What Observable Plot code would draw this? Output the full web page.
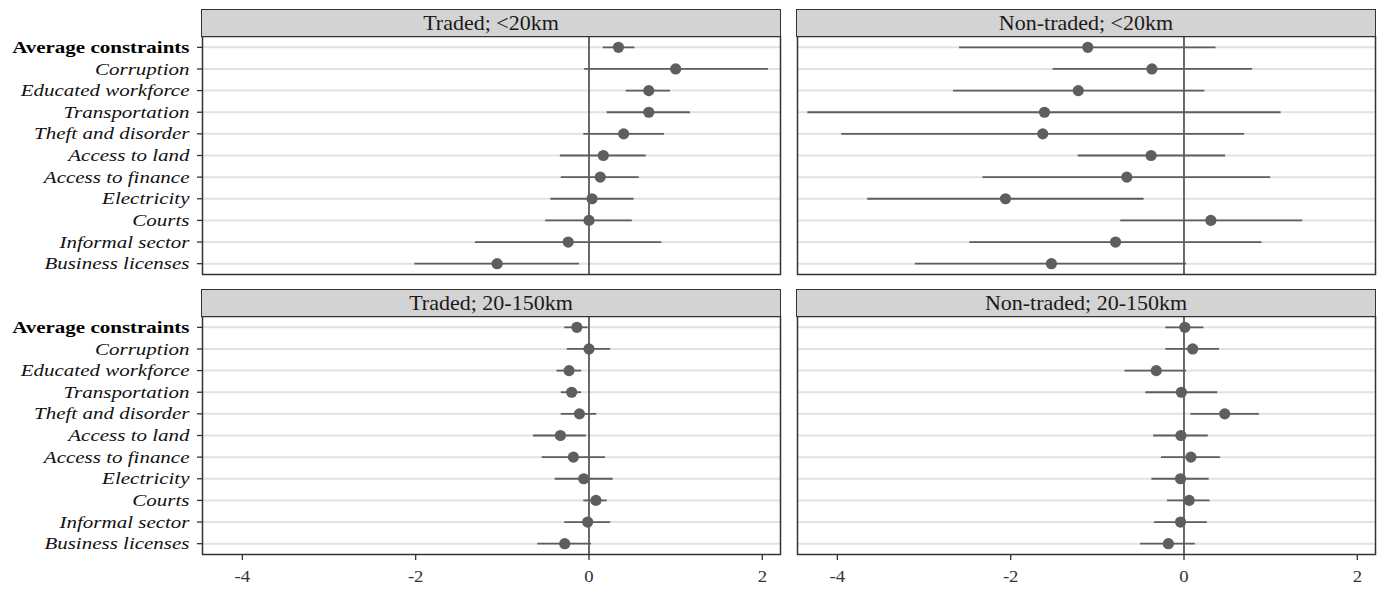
<!DOCTYPE html>
<html><head><meta charset="utf-8">
<script src="https://cdn.jsdelivr.net/npm/d3@7"></script>
<script src="https://cdn.jsdelivr.net/npm/@observablehq/plot@0.6"></script>
<style>
body{margin:0;background:#fff;}
#chart{position:relative;width:1380px;height:589px;background:#fff;font-family:"Liberation Serif","Times New Roman",serif;overflow:hidden;}
.strip{position:absolute;box-sizing:border-box;background:#d3d3d3;border:1.5px solid #333;text-align:center;font-size:22px;line-height:25px;color:#1a1a1a;white-space:nowrap;}
.panel{position:absolute;}
</style></head><body><div id="chart"></div>
<script>
// ---- data ----
const categories = ["Average constraints","Corruption","Educated workforce","Transportation","Theft and disorder","Access to land","Access to finance","Electricity","Courts","Informal sector","Business licenses"];
const panelTitles = ["Traded; <20km","Non-traded; <20km","Traded; 20-150km","Non-traded; 20-150km"];
const xTicks = [-4,-2,0,2];

const tradedNearEst = [0.34,1.00,0.69,0.69,0.40,0.165,0.13,0.035,0.00,-0.24,-1.06];
const tradedNearLo  = [0.165,-0.05,0.43,0.21,-0.06,-0.33,-0.32,-0.44,-0.50,-1.31,-2.01];
const tradedNearHi  = [0.53,2.07,0.94,1.17,0.87,0.66,0.58,0.52,0.50,0.84,-0.11];

const nonTradedNearEst = [-1.11,-0.37,-1.22,-1.61,-1.63,-0.38,-0.66,-2.06,0.31,-0.79,-1.53];
const nonTradedNearLo  = [-2.59,-1.51,-2.66,-4.34,-3.95,-1.22,-2.32,-3.65,-0.73,-2.47,-3.10];
const nonTradedNearHi  = [0.37,0.79,0.24,1.12,0.70,0.48,1.00,-0.46,1.37,0.90,0.03];

const tradedFarEst = [-0.14,0.00,-0.23,-0.20,-0.11,-0.33,-0.18,-0.06,0.08,-0.015,-0.28];
const tradedFarLo  = [-0.28,-0.25,-0.37,-0.32,-0.32,-0.64,-0.54,-0.39,-0.06,-0.28,-0.59];
const tradedFarHi  = [-0.01,0.25,-0.085,-0.085,0.09,-0.03,0.19,0.28,0.21,0.25,0.03];

const nonTradedFarEst = [0.01,0.10,-0.32,-0.03,0.47,-0.035,0.08,-0.04,0.06,-0.04,-0.18];
const nonTradedFarLo  = [-0.21,-0.21,-0.68,-0.44,0.08,-0.35,-0.26,-0.37,-0.19,-0.34,-0.50];
const nonTradedFarHi  = [0.23,0.41,0.03,0.39,0.87,0.28,0.42,0.29,0.30,0.27,0.13];

const seriesSets = [
  [tradedNearEst, tradedNearLo, tradedNearHi],
  [nonTradedNearEst, nonTradedNearLo, nonTradedNearHi],
  [tradedFarEst, tradedFarLo, tradedFarHi],
  [nonTradedFarEst, nonTradedFarLo, nonTradedFarHi]
];

// ---- layout ----
const chart = document.getElementById("chart");
const bodyW = 578, bodyH = 238;
const colX = [202, 797];        // panel body left edges
const rowY = [36, 316];         // panel body top edges
const stripH = 27;
const xDomain = [-4.46, 2.21];
const ink = "#5e5e5e";

function fmt(d){ return d < 0 ? "-" + Math.abs(d) : String(d); }

for (let i = 0; i < 4; i++) {
  const col = i % 2, row = Math.floor(i / 2);
  const [est, lo, hi] = seriesSets[i];
  const data = categories.map((c, k) => ({cat: c, est: est[k], lo: lo[k], hi: hi[k]}));

  const left = col === 0;
  const bottom = row === 1;
  const mL = left ? colX[0] : 3;
  const mR = 3, mT = 2, mB = bottom ? 35 : 2;
  const svgLeft = colX[col] - mL;
  const svgTop = rowY[row] - mT;

  const marks = [
    Plot.ruleY(categories, {y: d => d, stroke: "#e2e2e2", strokeWidth: 2}),
    Plot.ruleX([0], {stroke: "#444", strokeWidth: 1.6}),
    Plot.ruleY(data, {y: "cat", x1: "lo", x2: "hi", stroke: ink, strokeWidth: 1.8}),
    Plot.dot(data, {x: "est", y: "cat", r: 5.6, fill: ink, stroke: "none"}),
    Plot.frame({stroke: "#333", strokeWidth: 1.5})
  ];
  if (left) marks.push(Plot.axisY({label: null, tickSize: 5, tickPadding: 8, stroke: "#333", strokeWidth: 1.3, fill: "#111", fontSize: 17.5}));
  if (bottom) marks.push(Plot.axisX({label: null, ticks: xTicks, tickFormat: fmt, tickSize: 6, tickPadding: 9, stroke: "#333", strokeWidth: 1.3, fill: "#333", fontSize: 17}));

  const svg = Plot.plot({
    width: mL + bodyW + mR,
    height: mT + bodyH + mB,
    marginLeft: mL, marginRight: mR, marginTop: mT, marginBottom: mB,
    style: {fontFamily: '"Liberation Serif", "Times New Roman", serif', fontSize: "17px", background: "transparent", overflow: "visible"},
    x: {domain: xDomain, axis: null},
    y: {type: "point", domain: categories, padding: 0.5, round: false, axis: null},
    marks
  });

  svg.querySelectorAll('g[aria-label="y-axis tick label"] text').forEach(t => {
    if (t.textContent === "Average constraints") {
      t.setAttribute("font-weight", "bold");
      t.setAttribute("fill", "#000");
    } else {
      t.setAttribute("font-style", "italic");
    }
    const tr = t.getAttribute("transform") || "";
    t.setAttribute("transform", tr + " scale(1.2,1)");
  });
  svg.querySelectorAll('g[aria-label="x-axis tick label"] text').forEach(t => {
    const tr = t.getAttribute("transform") || "";
    t.setAttribute("transform", tr + " scale(1.1,1)");
  });

  const wrap = document.createElement("div");
  wrap.className = "panel";
  wrap.style.left = svgLeft + "px";
  wrap.style.top = svgTop + "px";
  wrap.appendChild(svg);
  chart.appendChild(wrap);

  const strip = document.createElement("div");
  strip.className = "strip";
  strip.style.left = (colX[col] - 0.75) + "px";
  strip.style.top = (rowY[row] - stripH) + "px";
  strip.style.width = (bodyW + 1.5) + "px";
  strip.style.height = (stripH + 0.75) + "px";
  strip.textContent = panelTitles[i];
  chart.appendChild(strip);
}
</script>
</body></html>
